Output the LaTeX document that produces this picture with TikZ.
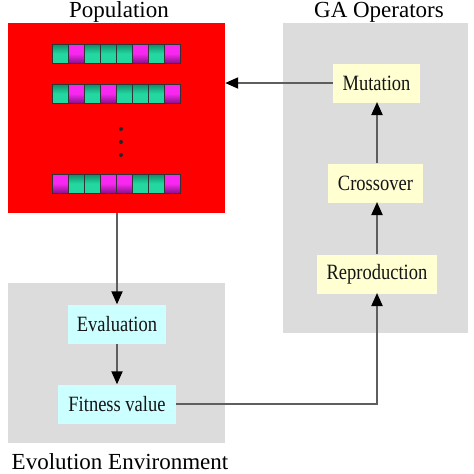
\documentclass[tikz,border=0pt]{standalone}
\usepackage{fontspec}
\setmainfont{Liberation Serif}
\usetikzlibrary{arrows.meta}
\newcommand{\tallt}[1]{\scalebox{1}[1.18]{#1}}
\begin{document}
\begin{tikzpicture}[x=1pt,y=-1pt,
  panel/.style={fill=panelgray,draw=none},
  opbox/.style={fill=opyellow,draw=none,font=\fontsize{18.5}{20}\selectfont,text=black!92,inner sep=0pt,anchor=center},
  envbox/.style={fill=envcyan,draw=none,font=\fontsize{18.5}{20}\selectfont,text=black!92,inner sep=0pt,anchor=center},
  title/.style={font=\fontsize{23}{25}\selectfont,text=black,inner sep=0pt},
  conn/.style={draw=linegray,line width=2pt,-{Triangle[length=13pt,width=11pt,color=black]}},
  gcell/.style={draw=black!80,line width=0.9pt,top color=tealdark,bottom color=tealbright,middle color=tealbright},
  mcell/.style={draw=black!80,line width=0.9pt,top color=magbright,bottom color=magdark,middle color=magbright}
]
\definecolor{panelgray}{HTML}{DCDCDC}
\definecolor{opyellow}{HTML}{FFFFD2}
\definecolor{envcyan}{HTML}{CCFFFF}
\definecolor{linegray}{HTML}{5E5E5E}
\definecolor{tealbright}{HTML}{22D8A0}
\definecolor{tealdark}{HTML}{128A68}
\definecolor{magbright}{HTML}{F828F0}
\definecolor{magdark}{HTML}{8A108A}
\useasboundingbox (0,0) rectangle (474,474);
\fill[white] (0,0) rectangle (474,474);
% panels
\fill[panel] (283,23) rectangle (468,333);
\fill[panel] (8,283) rectangle (225,443);
\fill[red] (8,23) rectangle (225,213);
\node[draw=none,minimum width=217pt,minimum height=190pt,inner sep=0pt] (pop) at (116.5,118) {};
% titles
\node[title,anchor=base] (tpop) at (119,17) {Population};
\node[title,anchor=base] (tga) at (379,17) {GA Operators};
\node[title,anchor=base] (tenv) at (120,469) {Evolution Environment};
% chromosomes
\foreach \row/\yy in {{G,M,G,G,G,M,G,M}/44,{G,M,G,M,G,G,G,M}/84,{M,G,G,M,M,G,G,M}/174}{
  \foreach \c [count=\i from 0] in \row {
    \pgfmathsetmacro{\xx}{52+16*\i}
    \if\c G
      \draw[gcell] (\xx,\yy) rectangle ++(16,19);
    \else
      \draw[mcell] (\xx,\yy) rectangle ++(16,19);
    \fi
  }
}
\foreach \yy in {129,142,155} \fill[black!85] (121,\yy) circle (2pt);
% operator boxes
\node[opbox,minimum width=87pt,minimum height=39pt] (mut) at (376.5,83) {\tallt{Mutation}};
\node[opbox,minimum width=95pt,minimum height=39pt] (cross) at (375.5,183) {\tallt{Crossover}};
\node[opbox,minimum width=120pt,minimum height=39pt] (repr) at (377,274) {\tallt{Reproduction}};
% environment boxes
\node[envbox,minimum width=98pt,minimum height=39pt] (eval) at (117,324) {\tallt{Evaluation}};
\node[envbox,minimum width=118pt,minimum height=39pt] (fit) at (117,404) {\tallt{Fitness value}};
% connectors
\draw[conn] (mut.west) -- (pop.east |- mut.west);
\draw[conn] (cross.north -| 377,0) -- (377,102);
\draw[conn] (repr.north -| 377,0) -- (377,202);
\draw[conn] (fit.east) -| (377,293);
\draw[conn] (117,213) -- (eval.north);
\draw[conn] (eval.south) -- (fit.north);
\end{tikzpicture}
\end{document}
